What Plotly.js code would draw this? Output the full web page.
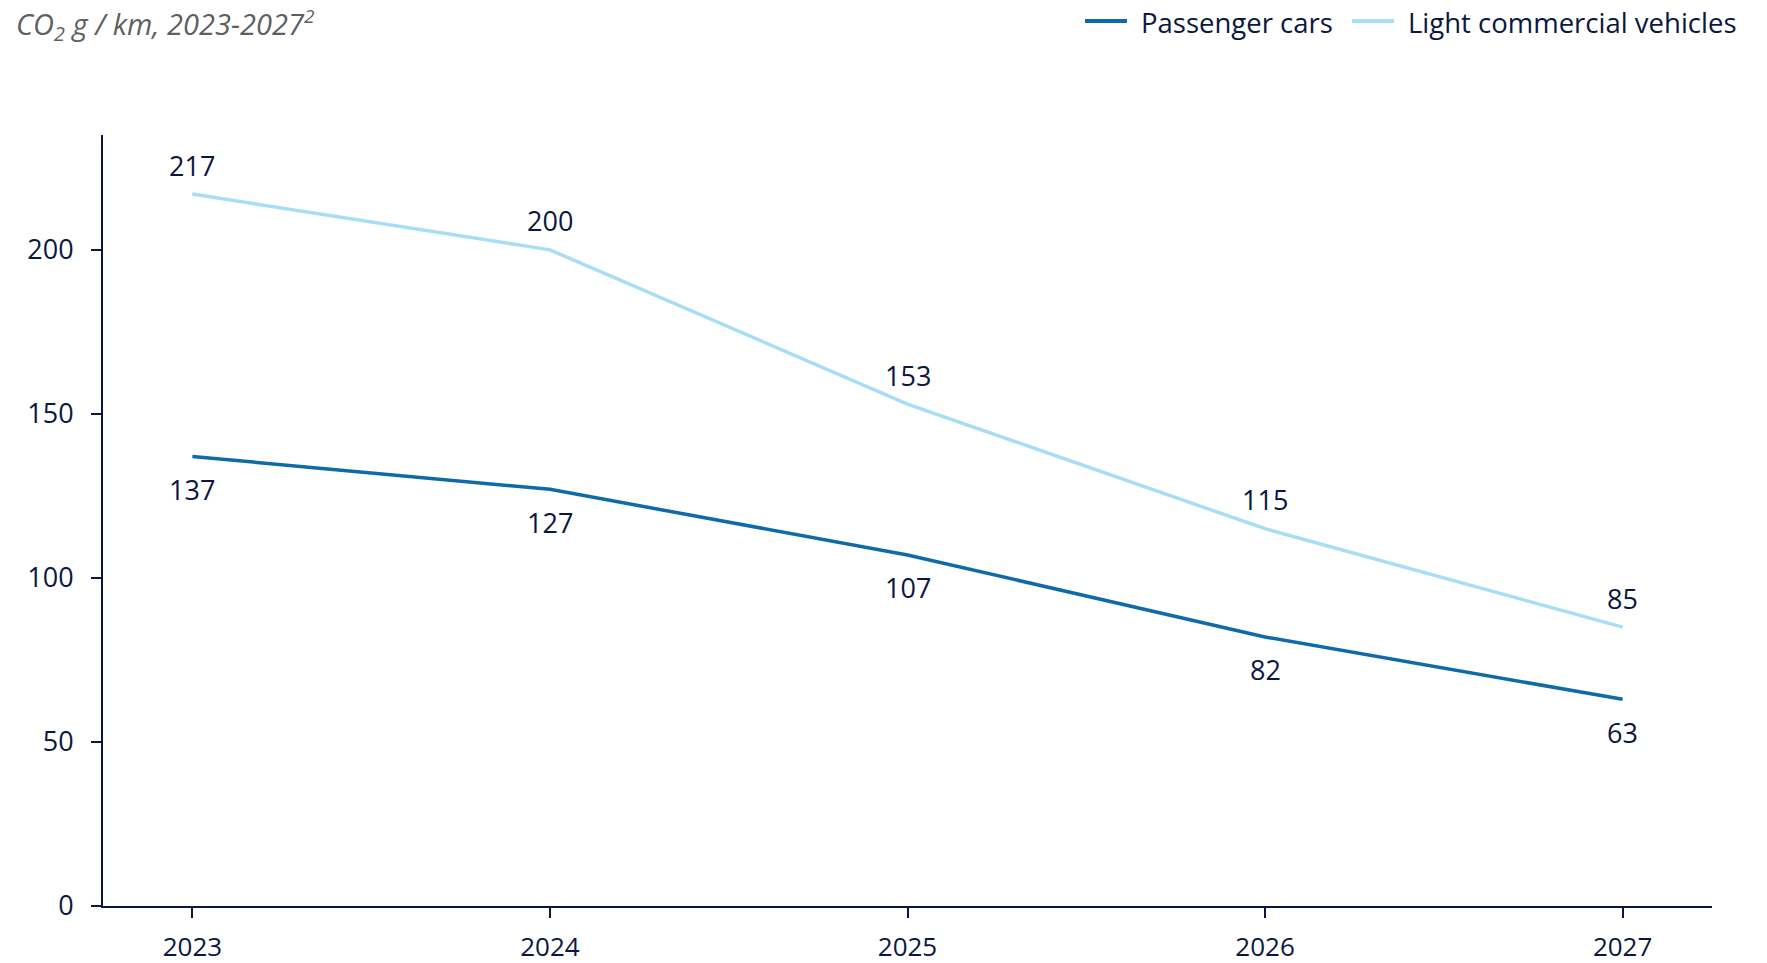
<!DOCTYPE html>
<html>
<head>
<meta charset="utf-8">
<script src="https://cdn.plot.ly/plotly-3.0.1.min.js"></script>
<style>html,body{margin:0;padding:0;background:#fff;}#chart{width:1767px;height:963px;}</style>
</head>
<body>
<div id="chart"></div>
<script>
const years = ['2023', '2024', '2025', '2026', '2027'];
const passengerCars = [137, 127, 107, 82, 63];
const lightCommercial = [217, 200, 153, 115, 85];
const seriesNames = ['Passenger cars', 'Light commercial vehicles'];
const yTicks = [0, 50, 100, 150, 200];

const navy = '#0b1742';
const darkBlue = '#0e6aa8';
const lightBlue = '#a7def6';
const fontFam = '"Open Sans", "Noto Sans", sans-serif';

const traces = [
  {x: years, y: passengerCars, name: seriesNames[0], type: 'scatter', mode: 'lines',
   line: {color: darkBlue, width: 3.5}, showlegend: false},
  {x: years, y: lightCommercial, name: seriesNames[1], type: 'scatter', mode: 'lines',
   line: {color: lightBlue, width: 3.5}, showlegend: false}
];

const annotations = [];
years.forEach((yr, i) => {
  annotations.push({x: i, y: lightCommercial[i], xref: 'x', yref: 'y', text: String(lightCommercial[i]),
    showarrow: false, yshift: 29, font: {family: fontFam, size: 27, color: navy}});
  annotations.push({x: i, y: passengerCars[i], xref: 'x', yref: 'y', text: String(passengerCars[i]),
    showarrow: false, yshift: -33, font: {family: fontFam, size: 27, color: navy}});
});

// manual legend (paper coordinates)
const plotL = 103, plotW = 1609, plotB = 906, plotH = 771;
const px = v => (v - plotL) / plotW;
const py = v => (plotB - v) / plotH;
const legendItems = [
  {name: seriesNames[0], color: darkBlue, x0: 1085, x1: 1127, tx: 1139},
  {name: seriesNames[1], color: lightBlue, x0: 1352, x1: 1394, tx: 1406}
];
const shapes = [];
legendItems.forEach(it => {
  shapes.push({type: 'line', xref: 'paper', yref: 'paper', x0: px(it.x0), x1: px(it.x1),
    y0: py(21), y1: py(21), line: {color: it.color, width: 4}});
  annotations.push({xref: 'paper', yref: 'paper', x: px(it.tx), y: py(22), xanchor: 'left', yanchor: 'middle',
    text: it.name, showarrow: false, font: {family: fontFam, size: 27.5, color: navy}});
});

const layout = {
  width: 1767, height: 963,
  margin: {l: 103, r: 55, t: 135, b: 57},
  paper_bgcolor: '#fff', plot_bgcolor: '#fff',
  font: {family: fontFam, size: 27, color: navy},
  title: {text: '<i>CO<sub>2</sub> g / km, 2023-2027<sup><span style="font-size:19px">2</span></sup></i>',
    x: 0.009, xref: 'container', xanchor: 'left',
    y: 0.974, yref: 'container', yanchor: 'middle',
    font: {family: fontFam, size: 29, color: '#5f5f5f'}},
  showlegend: false,
  xaxis: {type: 'category', range: [-0.25, 4.25], showgrid: false, zeroline: false, automargin: false,
    showline: true, linecolor: navy, linewidth: 2, ticks: 'outside', ticklen: 10, tickwidth: 2,
    tickcolor: navy, ticklabelstandoff: 7, tickfont: {family: fontFam, size: 26, color: navy}},
  yaxis: {range: [0, 235], tickvals: yTicks, showgrid: false, zeroline: false, automargin: false,
    showline: true, linecolor: navy, linewidth: 2, ticks: 'outside', ticklen: 10, tickwidth: 2,
    tickcolor: navy, ticklabelstandoff: 12, tickfont: {family: fontFam, size: 27, color: navy}},
  annotations: annotations,
  shapes: shapes
};

Plotly.newPlot('chart', traces, layout, {displayModeBar: false, staticPlot: true});
</script>
</body>
</html>
